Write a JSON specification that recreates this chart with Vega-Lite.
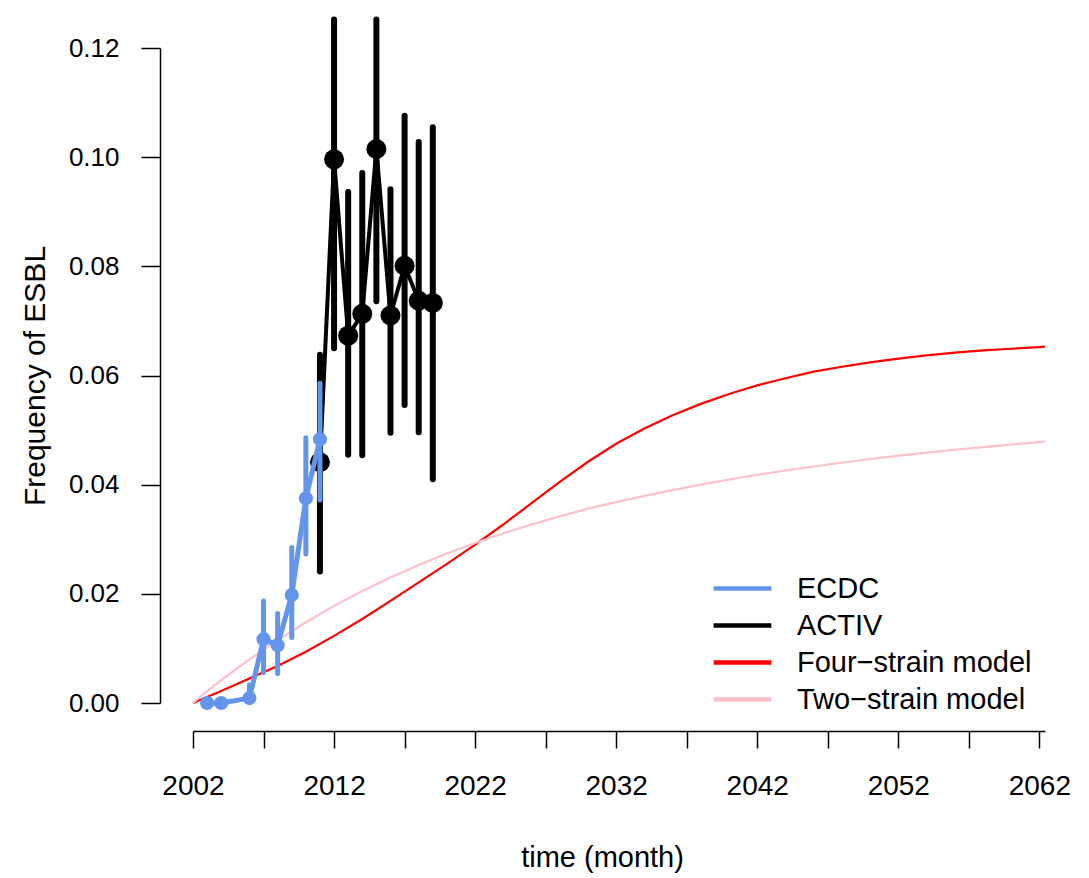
{
  "$schema": "https://vega.github.io/schema/vega-lite/v6.json",
  "autosize": "none",
  "width": 852,
  "height": 655,
  "padding": {"left": 193, "top": 48, "right": 44, "bottom": 175},
  "background": "white",
  "config": {
    "font": "Liberation Sans",
    "view": {"stroke": null},
    "axis": {"grid": false, "domainColor": "black", "tickColor": "black", "labelColor": "black", "titleColor": "black", "domainWidth": 1.5, "tickWidth": 1.5, "labelFont": "Liberation Sans", "titleFont": "Liberation Sans", "titleFontWeight": "normal"},
    "legend": {"labelFont": "Liberation Sans"}
  },
  "datasets": {
    "models": [
      {"series": "Four−strain model", "year": 2002, "freq": 0.0},
      {"series": "Four−strain model", "year": 2004, "freq": 0.0022},
      {"series": "Four−strain model", "year": 2006, "freq": 0.0045},
      {"series": "Four−strain model", "year": 2008, "freq": 0.0068},
      {"series": "Four−strain model", "year": 2010, "freq": 0.0094},
      {"series": "Four−strain model", "year": 2012, "freq": 0.0123},
      {"series": "Four−strain model", "year": 2014, "freq": 0.0154},
      {"series": "Four−strain model", "year": 2016, "freq": 0.0187},
      {"series": "Four−strain model", "year": 2018, "freq": 0.0221},
      {"series": "Four−strain model", "year": 2020, "freq": 0.0255},
      {"series": "Four−strain model", "year": 2022, "freq": 0.029},
      {"series": "Four−strain model", "year": 2024, "freq": 0.0327},
      {"series": "Four−strain model", "year": 2026, "freq": 0.0366},
      {"series": "Four−strain model", "year": 2028, "freq": 0.0405},
      {"series": "Four−strain model", "year": 2030, "freq": 0.0442},
      {"series": "Four−strain model", "year": 2032, "freq": 0.0475},
      {"series": "Four−strain model", "year": 2034, "freq": 0.0503},
      {"series": "Four−strain model", "year": 2036, "freq": 0.0527},
      {"series": "Four−strain model", "year": 2038, "freq": 0.0548},
      {"series": "Four−strain model", "year": 2040, "freq": 0.0566},
      {"series": "Four−strain model", "year": 2042, "freq": 0.0582},
      {"series": "Four−strain model", "year": 2044, "freq": 0.0595},
      {"series": "Four−strain model", "year": 2046, "freq": 0.0607},
      {"series": "Four−strain model", "year": 2048, "freq": 0.0616},
      {"series": "Four−strain model", "year": 2050, "freq": 0.0624},
      {"series": "Four−strain model", "year": 2052, "freq": 0.0631},
      {"series": "Four−strain model", "year": 2054, "freq": 0.0637},
      {"series": "Four−strain model", "year": 2056, "freq": 0.0642},
      {"series": "Four−strain model", "year": 2058, "freq": 0.0646},
      {"series": "Four−strain model", "year": 2060, "freq": 0.0649},
      {"series": "Four−strain model", "year": 2062, "freq": 0.0652},
      {"series": "Four−strain model", "year": 2062.4, "freq": 0.0653},
      {"series": "Two−strain model", "year": 2002, "freq": 0.0},
      {"series": "Two−strain model", "year": 2003, "freq": 0.0022},
      {"series": "Two−strain model", "year": 2004, "freq": 0.0042},
      {"series": "Two−strain model", "year": 2006, "freq": 0.008},
      {"series": "Two−strain model", "year": 2008, "freq": 0.0115},
      {"series": "Two−strain model", "year": 2010, "freq": 0.0148},
      {"series": "Two−strain model", "year": 2012, "freq": 0.0178},
      {"series": "Two−strain model", "year": 2014, "freq": 0.0205},
      {"series": "Two−strain model", "year": 2016, "freq": 0.023},
      {"series": "Two−strain model", "year": 2018, "freq": 0.0253},
      {"series": "Two−strain model", "year": 2020, "freq": 0.0274},
      {"series": "Two−strain model", "year": 2022, "freq": 0.0293},
      {"series": "Two−strain model", "year": 2024, "freq": 0.0311},
      {"series": "Two−strain model", "year": 2026, "freq": 0.0327},
      {"series": "Two−strain model", "year": 2028, "freq": 0.0342},
      {"series": "Two−strain model", "year": 2030, "freq": 0.0356},
      {"series": "Two−strain model", "year": 2032, "freq": 0.0368},
      {"series": "Two−strain model", "year": 2035, "freq": 0.0385},
      {"series": "Two−strain model", "year": 2038, "freq": 0.04},
      {"series": "Two−strain model", "year": 2041, "freq": 0.0414},
      {"series": "Two−strain model", "year": 2044, "freq": 0.0426},
      {"series": "Two−strain model", "year": 2047, "freq": 0.0437},
      {"series": "Two−strain model", "year": 2050, "freq": 0.0447},
      {"series": "Two−strain model", "year": 2053, "freq": 0.0456},
      {"series": "Two−strain model", "year": 2056, "freq": 0.0464},
      {"series": "Two−strain model", "year": 2059, "freq": 0.0471},
      {"series": "Two−strain model", "year": 2062, "freq": 0.0478},
      {"series": "Two−strain model", "year": 2062.4, "freq": 0.0479}
    ],
    "obs": [
      {"series": "ECDC", "year": 2003, "freq": 0.0, "lo": 0.0, "hi": 0.0},
      {"series": "ECDC", "year": 2004, "freq": 0.0, "lo": 0.0, "hi": 0.0},
      {"series": "ECDC", "year": 2006, "freq": 0.0009, "lo": 0.0003, "hi": 0.0033},
      {"series": "ECDC", "year": 2007, "freq": 0.0117, "lo": 0.0056, "hi": 0.0187},
      {"series": "ECDC", "year": 2008, "freq": 0.0106, "lo": 0.0054, "hi": 0.0164},
      {"series": "ECDC", "year": 2009, "freq": 0.0198, "lo": 0.012, "hi": 0.0285},
      {"series": "ECDC", "year": 2010, "freq": 0.0375, "lo": 0.0273, "hi": 0.0486},
      {"series": "ECDC", "year": 2011, "freq": 0.0483, "lo": 0.0372, "hi": 0.0586},
      {"series": "ACTIV", "year": 2011, "freq": 0.0441, "lo": 0.0241, "hi": 0.0638},
      {"series": "ACTIV", "year": 2012, "freq": 0.0996, "lo": 0.065, "hi": 0.1252},
      {"series": "ACTIV", "year": 2013, "freq": 0.0673, "lo": 0.0455, "hi": 0.0936},
      {"series": "ACTIV", "year": 2014, "freq": 0.0713, "lo": 0.0454, "hi": 0.0971},
      {"series": "ACTIV", "year": 2015, "freq": 0.1015, "lo": 0.0736, "hi": 0.1252},
      {"series": "ACTIV", "year": 2016, "freq": 0.071, "lo": 0.0495, "hi": 0.0941},
      {"series": "ACTIV", "year": 2017, "freq": 0.0801, "lo": 0.0546, "hi": 0.1076},
      {"series": "ACTIV", "year": 2018, "freq": 0.0737, "lo": 0.0496, "hi": 0.1028},
      {"series": "ACTIV", "year": 2019, "freq": 0.0733, "lo": 0.041, "hi": 0.1055}
    ]
  },
  "encoding": {
    "x": {
      "field": "year", "type": "quantitative",
      "scale": {"domain": [2002, 2062.4], "nice": false, "zero": false},
      "axis": {
        "title": "time (month)", "titleFontSize": 29, "titleX": 409, "titleAlign": "center", "titlePadding": 43,
        "values": [2002, 2007, 2012, 2017, 2022, 2027, 2032, 2037, 2042, 2047, 2052, 2057, 2062],
        "labelExpr": "(datum.value - 2002) % 10 == 0 ? format(datum.value, 'd') : ''",
        "labelFontSize": 28, "labelPadding": 24, "tickSize": 17, "offset": 28,
        "labelOverlap": false, "labelBound": false, "labelFlush": false
      }
    },
    "y": {
      "field": "freq", "type": "quantitative",
      "scale": {"domain": [0, 0.12], "nice": false, "zero": false},
      "axis": {
        "title": "Frequency of ESBL", "titleFontSize": 30, "titlePadding": 18,
        "values": [0, 0.02, 0.04, 0.06, 0.08, 0.1, 0.12], "format": ".2f",
        "labelFontSize": 26, "labelPadding": 22, "tickSize": 19, "offset": 33,
        "labelOverlap": false, "labelBound": false, "labelFlush": false
      }
    },
    "color": {
      "field": "series", "type": "nominal",
      "scale": {"domain": ["ECDC", "ACTIV", "Four−strain model", "Two−strain model"], "range": ["#6495ED", "#000000", "#FF0000", "#FFC0CB"]},
      "legend": {
        "title": null, "orient": "none", "legendX": 528, "legendY": 519,
        "symbolType": "M-1.5,0H1.5", "symbolStrokeWidth": 4.5, "symbolSize": 1482,
        "labelFontSize": 29, "labelOffset": 33, "labelLimit": 500, "rowPadding": 0, "padding": 0
      }
    }
  },
  "layer": [
    {
      "data": {"name": "models"},
      "mark": {"type": "line", "strokeWidth": 2.2, "clip": false},
      "encoding": {"detail": {"field": "series"}}
    },
    {
      "data": {"name": "obs"},
      "transform": [{"filter": "datum.series == 'ACTIV'"}],
      "mark": {"type": "rule", "strokeWidth": 6, "strokeCap": "round"},
      "encoding": {"y": {"field": "lo", "type": "quantitative"}, "y2": {"field": "hi"}}
    },
    {
      "data": {"name": "obs"},
      "transform": [{"filter": "datum.series == 'ACTIV'"}],
      "mark": {"type": "line", "strokeWidth": 4, "strokeJoin": "round"}
    },
    {
      "data": {"name": "obs"},
      "transform": [{"filter": "datum.series == 'ACTIV'"}],
      "mark": {"type": "point", "filled": true, "opacity": 1, "size": 400}
    },
    {
      "data": {"name": "obs"},
      "transform": [{"filter": "datum.series == 'ECDC'"}],
      "mark": {"type": "rule", "strokeWidth": 5, "strokeCap": "round"},
      "encoding": {"y": {"field": "lo", "type": "quantitative"}, "y2": {"field": "hi"}}
    },
    {
      "data": {"name": "obs"},
      "transform": [{"filter": "datum.series == 'ECDC'"}],
      "mark": {"type": "line", "strokeWidth": 5, "strokeJoin": "round"}
    },
    {
      "data": {"name": "obs"},
      "transform": [{"filter": "datum.series == 'ECDC'"}],
      "mark": {"type": "point", "filled": true, "opacity": 1, "size": 200}
    }
  ]
}
